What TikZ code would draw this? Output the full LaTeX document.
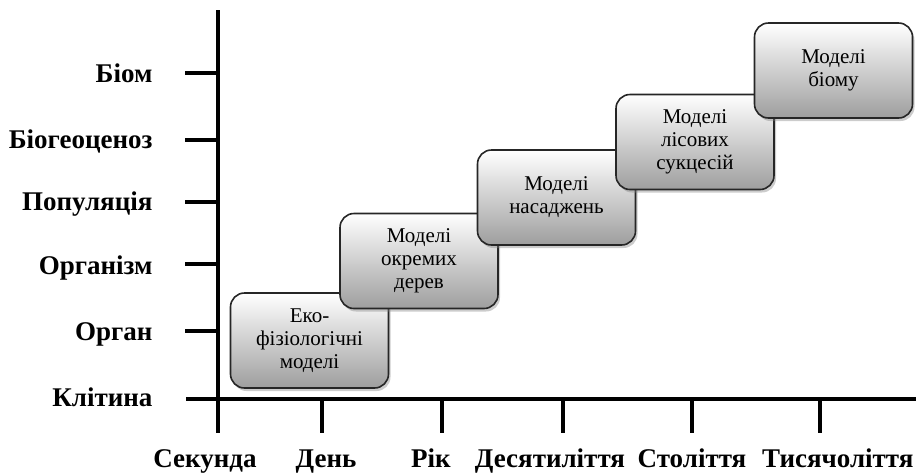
\documentclass[tikz,border=0pt]{standalone}
\usepackage{fontspec}
\setmainfont{Liberation Serif}
\usetikzlibrary{shadows}

\begin{document}
\begin{tikzpicture}[x=1pt, y=-1pt,
    axisline/.style={line width=4pt},
    levellabel/.style={anchor=base east, font=\fontsize{27}{30}\selectfont\bfseries},
    timelabel/.style={anchor=base, font=\fontsize{27}{30}\selectfont\bfseries},
    modelbox/.style={draw=black!85, line width=1.6pt, rounded corners=14pt,
        minimum width=158pt, minimum height=95pt, align=center,
        top color=white, middle color=black!5, bottom color=black!38,
        drop shadow={shadow xshift=2pt, shadow yshift=-3pt, opacity=0.4},
        font=\fontsize{21}{23}\selectfont}]

    \useasboundingbox (0,0) rectangle (916,475);

    % Declare the axes
    \coordinate (ytop) at (218,10);
    \coordinate (ybot) at (218,433);
    \coordinate (xleft) at (186,399);
    \coordinate (xright) at (916,399);
    \draw[axisline] (ytop) -- (ybot);
    \draw[axisline] (xleft) -- (xright);

    % Declare the levels
    \node[levellabel] at (156,82) (biom) {Біом};
    \node[levellabel] at (156,148) (biogeo) {Біогеоценоз};
    \node[levellabel] at (156,210) (popul) {Популяція};
    \node[levellabel] at (156,274) (organizm) {Організм};
    \node[levellabel] at (156,340) (organ) {Орган};
    \node[levellabel] at (156,406) (klityna) {Клітина};

    % Declare level ticks
    \draw[axisline] (185,73) -- (218,73);
    \draw[axisline] (185,140) -- (218,140);
    \draw[axisline] (185,202) -- (218,202);
    \draw[axisline] (185,264) -- (218,264);
    \draw[axisline] (185,331) -- (218,331);

    % Declare the time scale
    \node[timelabel] at (205,467) (sekunda) {Секунда};
    \node[timelabel] at (326,467) (den) {День};
    \node[timelabel] at (431,467) (rik) {Рік};
    \node[timelabel] at (550,467) (desyat) {Десятиліття};
    \node[timelabel] at (692,467) (stolit) {Століття};
    \node[timelabel, anchor=base east] at (917,467) (tysyach) {Тисячоліття};

    % Declare time ticks
    \draw[axisline] (322,399) -- (322,433);
    \draw[axisline] (442,399) -- (442,433);
    \draw[axisline] (563,399) -- (563,433);
    \draw[axisline] (692,399) -- (692,433);
    \draw[axisline] (820,399) -- (820,433);

    % Declare the models
    \node[modelbox] at (309.5,340.5) (ekofiz) {Еко-\\фізіологічні\\моделі};
    \node[modelbox] at (419,261) (derev) {Моделі\\окремих\\дерев};
    \node[modelbox] at (556.5,197.5) (nasad) {Моделі\\насаджень};
    \node[modelbox] at (695,142) (sukces) {Моделі\\лісових\\сукцесій};
    \node[modelbox] at (833.5,70.5) (biomod) {Моделі\\біому};

\end{tikzpicture}
\end{document}
